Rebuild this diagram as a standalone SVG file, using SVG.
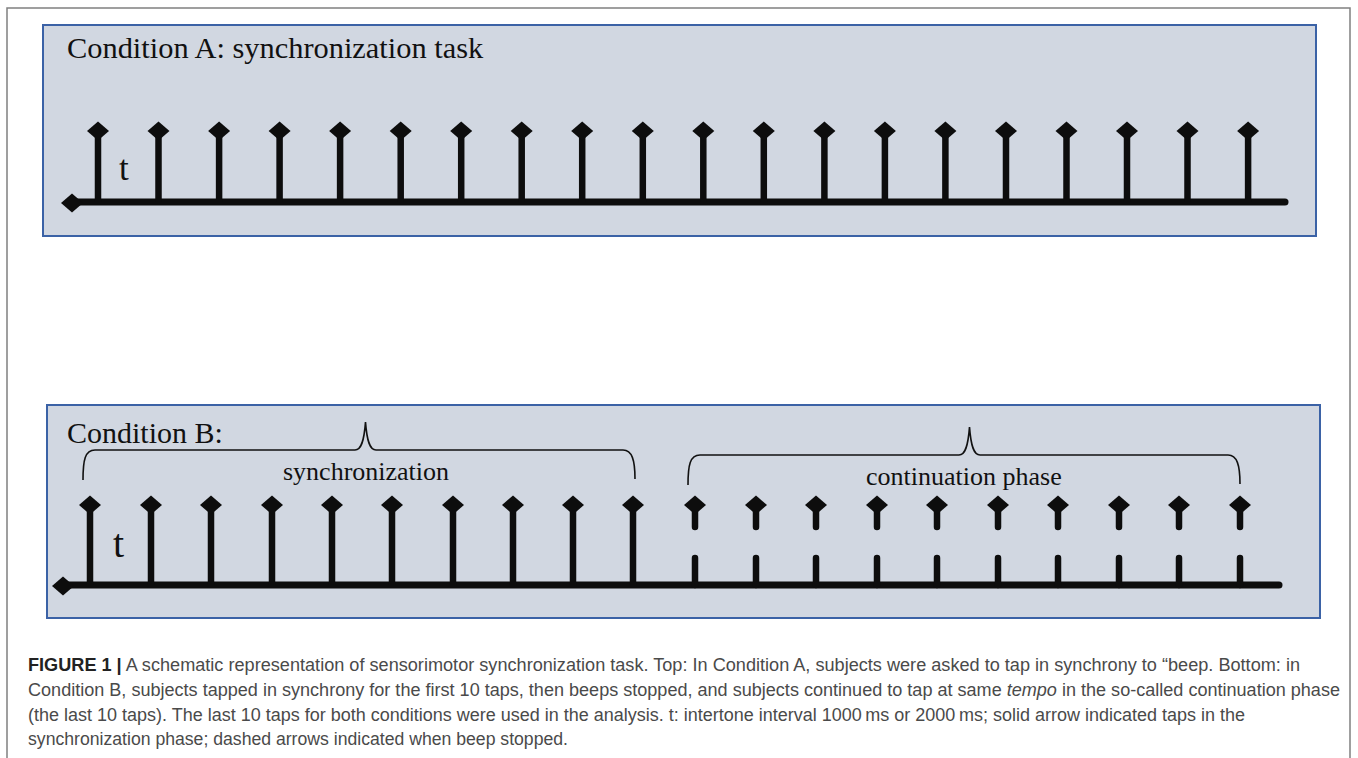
<svg xmlns="http://www.w3.org/2000/svg" xmlns:xlink="http://www.w3.org/1999/xlink" width="1358" height="758" viewBox="0 0 1358 758">
<style>
.panel{fill:#d1d7e1;stroke:#3b62a6;stroke-width:2}
.axis{stroke:#0d0d0d;stroke-width:7;stroke-linecap:round;fill:none}
.stem{stroke:#0d0d0d;stroke-width:6.5;fill:none}
.dash{stroke:#0d0d0d;stroke-width:6.5;stroke-linecap:round;fill:none}
.brace{stroke:#111;stroke-width:1.6;fill:none}
.serif{font-family:"Liberation Serif","Times New Roman",serif;fill:#111}
.cap{font-family:"Liberation Sans",Arial,sans-serif;font-size:17.5px;fill:#4a4a4a}
</style>
<defs>
<polygon id="dia" points="0,-9.5 11,0 0,9.5 -11,0" fill="#0d0d0d"/>
</defs>
<rect width="1358" height="758" fill="#ffffff"/>
<path d="M7,758 L7,8 L1350,8 L1350,758" fill="none" stroke="#808080" stroke-width="1.5"/>

<g id="panelA">
<rect class="panel" x="43" y="25" width="1273" height="211"/>
<text class="serif" x="67" y="58" font-size="30.4">Condition A: synchronization task</text>
<text class="serif" x="119" y="180" font-size="35">t</text>
<line class="axis" x1="72" y1="202" x2="1285" y2="202"/>
<use xlink:href="#dia" x="72" y="203"/>
<g id="stemsA">
<path class="stem" d="M98,131V202M158.5,131V202M219.1,131V202M279.6,131V202M340.1,131V202M400.7,131V202M461.2,131V202M521.7,131V202M582.2,131V202M642.8,131V202M703.3,131V202M763.8,131V202M824.4,131V202M884.9,131V202M945.4,131V202M1006,131V202M1066.5,131V202M1127,131V202M1187.5,131V202M1248.1,131V202"/>
<use xlink:href="#dia" x="98" y="131"/><use xlink:href="#dia" x="158.5" y="131"/><use xlink:href="#dia" x="219.1" y="131"/><use xlink:href="#dia" x="279.6" y="131"/><use xlink:href="#dia" x="340.1" y="131"/><use xlink:href="#dia" x="400.7" y="131"/><use xlink:href="#dia" x="461.2" y="131"/><use xlink:href="#dia" x="521.7" y="131"/><use xlink:href="#dia" x="582.2" y="131"/><use xlink:href="#dia" x="642.8" y="131"/><use xlink:href="#dia" x="703.3" y="131"/><use xlink:href="#dia" x="763.8" y="131"/><use xlink:href="#dia" x="824.4" y="131"/><use xlink:href="#dia" x="884.9" y="131"/><use xlink:href="#dia" x="945.4" y="131"/><use xlink:href="#dia" x="1006" y="131"/><use xlink:href="#dia" x="1066.5" y="131"/><use xlink:href="#dia" x="1127" y="131"/><use xlink:href="#dia" x="1187.5" y="131"/><use xlink:href="#dia" x="1248.1" y="131"/>
</g>
</g>

<g id="panelB">
<rect class="panel" x="47" y="405" width="1273" height="213"/>
<text class="serif" x="67" y="443" font-size="30">Condition B:</text>
<text class="serif" x="283" y="480" font-size="26">synchronization</text>
<text class="serif" x="866" y="485" font-size="26">continuation phase</text>
<text class="serif" x="113" y="557" font-size="40">t</text>
<path class="brace" d="M83,480 C83,460 85,450 95,450 L355,450 C361,450 364,442 365.5,422 C367,442 370,450 376,450 L623,450 C632,450 635,460 635,479"/>
<path class="brace" d="M688,485 C688,465 690,455 700,455 L959,455 C965,455 968,447 969.5,427 C971,447 974,455 980,455 L1228,455 C1237,455 1240,465 1240,484"/>
<line class="axis" x1="63" y1="585" x2="1279" y2="585"/>
<use xlink:href="#dia" x="63" y="586"/>
<g id="stemsB">
<path class="stem" d="M90,505V585M151,505V585M211,505V585M272,505V585M332,505V585M392,505V585M453,505V585M513,505V585M573,505V585M633,505V585"/>
<use xlink:href="#dia" x="90" y="505"/><use xlink:href="#dia" x="151" y="505"/><use xlink:href="#dia" x="211" y="505"/><use xlink:href="#dia" x="272" y="505"/><use xlink:href="#dia" x="332" y="505"/><use xlink:href="#dia" x="392" y="505"/><use xlink:href="#dia" x="453" y="505"/><use xlink:href="#dia" x="513" y="505"/><use xlink:href="#dia" x="573" y="505"/><use xlink:href="#dia" x="633" y="505"/>
</g>
<g id="stemsDashed">
<path class="dash" d="M695,505V527M756,505V527M816,505V527M877,505V527M937,505V527M998,505V527M1058,505V527M1119,505V527M1179,505V527M1240,505V527"/>
<path class="dash" d="M695,558V585M756,558V585M816,558V585M877,558V585M937,558V585M998,558V585M1058,558V585M1119,558V585M1179,558V585M1240,558V585"/>
<use xlink:href="#dia" x="695" y="505"/><use xlink:href="#dia" x="756" y="505"/><use xlink:href="#dia" x="816" y="505"/><use xlink:href="#dia" x="877" y="505"/><use xlink:href="#dia" x="937" y="505"/><use xlink:href="#dia" x="998" y="505"/><use xlink:href="#dia" x="1058" y="505"/><use xlink:href="#dia" x="1119" y="505"/><use xlink:href="#dia" x="1179" y="505"/><use xlink:href="#dia" x="1240" y="505"/>
</g>
</g>

<g id="caption">
<text class="cap" x="28" y="671" textLength="1272" lengthAdjust="spacingAndGlyphs"><tspan font-weight="bold" fill="#222">FIGURE 1 |</tspan> A schematic representation of sensorimotor synchronization task. Top: In Condition A, subjects were asked to tap in synchrony to “beep. Bottom: in</text>
<text class="cap" x="28" y="696" textLength="1312" lengthAdjust="spacingAndGlyphs">Condition B, subjects tapped in synchrony for the first 10 taps, then beeps stopped, and subjects continued to tap at same <tspan font-style="italic">tempo</tspan> in the so-called continuation phase</text>
<text class="cap" x="28" y="721" textLength="1217" lengthAdjust="spacingAndGlyphs">(the last 10 taps). The last 10 taps for both conditions were used in the analysis. t: intertone interval 1000&#8201;ms or 2000&#8201;ms; solid arrow indicated taps in the</text>
<text class="cap" x="28" y="745" textLength="540" lengthAdjust="spacingAndGlyphs">synchronization phase; dashed arrows indicated when beep stopped.</text>
</g>
</svg>
